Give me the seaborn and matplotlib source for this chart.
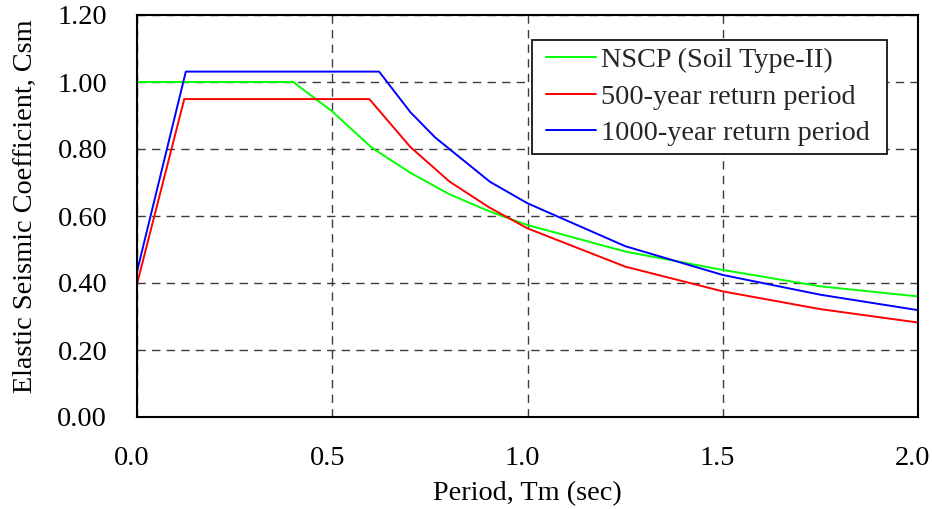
import matplotlib
matplotlib.use("Agg")
import matplotlib.pyplot as plt
import matplotlib.transforms as mtransforms
from matplotlib.lines import Line2D
from matplotlib.legend_handler import HandlerLine2D
import pandas as pd
import seaborn as sns

# Elastic response spectra: period (sec) vs seismic coefficient Csm
nscp_T = [0.0, 0.1, 0.2, 0.3, 0.4, 0.5, 0.6, 0.7, 0.8, 0.9, 1.0, 1.25, 1.5, 1.75, 2.0]
nscp_C = [1.0, 1.0, 1.0, 1.0, 1.0, 0.912, 0.805, 0.729, 0.665, 0.615, 0.573, 0.494, 0.439, 0.390, 0.360]

rp500_T = [0.0, 0.121, 0.595, 0.7, 0.8, 0.9, 1.0, 1.25, 1.5, 1.75, 2.0]
rp500_C = [0.397, 0.949, 0.949, 0.806, 0.703, 0.627, 0.563, 0.449, 0.375, 0.322, 0.282]

rp1000_T = [0.0, 0.125, 0.62, 0.7, 0.763, 0.904, 1.0, 1.25, 1.5, 1.75, 2.0]
rp1000_C = [0.434, 1.031, 1.031, 0.91, 0.835, 0.702, 0.638, 0.510, 0.424, 0.365, 0.319]

series_names = ["NSCP (Soil Type-II)", "500-year return period", "1000-year return period"]
series_colors = ["#00ff00", "#ff0000", "#0000ff"]

x_ticks = [0.0, 0.5, 1.0, 1.5, 2.0]
y_ticks = [0.0, 0.2, 0.4, 0.6, 0.8, 1.0, 1.2]

frames = []
for name, T, C in zip(series_names, [nscp_T, rp500_T, rp1000_T], [nscp_C, rp500_C, rp1000_C]):
    frames.append(pd.DataFrame({"Period": T, "Csm": C, "Series": name}))
df = pd.concat(frames, ignore_index=True)

sns.set_theme(style="white")
plt.rcParams["font.family"] = ["Liberation Serif", "DejaVu Serif"]

FS = 20.3
W, H = 932, 509

fig = plt.figure(figsize=(W / 100, H / 100), dpi=100)
ax = fig.add_axes([137 / W, 1 - 417 / H, (918 - 137) / W, (417 - 15) / H])

sns.lineplot(data=df, x="Period", y="Csm", hue="Series", hue_order=series_names,
             palette=series_colors, sort=False, estimator=None, linewidth=1.4, ax=ax)

ax.set_xlim(0, 2.0)
ax.set_ylim(0, 1.2)
ax.set_xticks(x_ticks)
ax.set_yticks(y_ticks)
ax.set_xticklabels([f"{v:.1f}" for v in x_ticks], fontsize=FS)
ax.set_yticklabels([f"{v:.2f}" for v in y_ticks], fontsize=FS)
ax.tick_params(axis="both", direction="in", length=4, width=1, color="black", colors="black")
ax.tick_params(axis="x", pad=21)
ax.tick_params(axis="y", pad=21.5)

# nudge period tick labels slightly to the left
shift = mtransforms.ScaledTranslation(-5 / 100, 0, fig.dpi_scale_trans)
for lbl in ax.get_xticklabels():
    lbl.set_transform(lbl.get_transform() + shift)

ax.grid(True, color="#3c3c3c", linestyle=(0, (6, 4.5)), linewidth=1.0)
ax.set_axisbelow(True)
for s in ax.spines.values():
    s.set_color("black")
    s.set_linewidth(1.5)
    s.set_visible(True)

ax.set_xlabel("Period, Tm (sec)", fontsize=FS, color="black")
ax.set_ylabel("Elastic Seismic Coefficient, Csm", fontsize=FS, color="black")
ax.xaxis.set_label_coords(0.5, (417 - 481) / 402)
ax.yaxis.set_label_coords((38 - 137) / 781, 1 - (206 - 15) / 402)

# legend box spans a fixed width in the upper right
fs_px = FS * 100 / 72
lx0, lx1, ly_top = 532, 887, 40
leg = ax.legend(loc="upper left", bbox_to_anchor=(lx0 / W, 1 - ly_top / H - 0.3, (lx1 - lx0) / W, 0.3),
                bbox_transform=fig.transFigure, mode="expand", fontsize=FS, frameon=True,
                fancybox=False, edgecolor="black", framealpha=1,
                handlelength=56 / fs_px, handletextpad=0.2, borderpad=0.27,
                labelspacing=0.38, borderaxespad=0,
                handler_map={Line2D: HandlerLine2D(xpad=6 / fs_px)})
leg.get_frame().set_linewidth(1.2)
for h in leg.get_lines():
    h.set_linewidth(1.4)

fig.savefig("out.png", dpi=100)
